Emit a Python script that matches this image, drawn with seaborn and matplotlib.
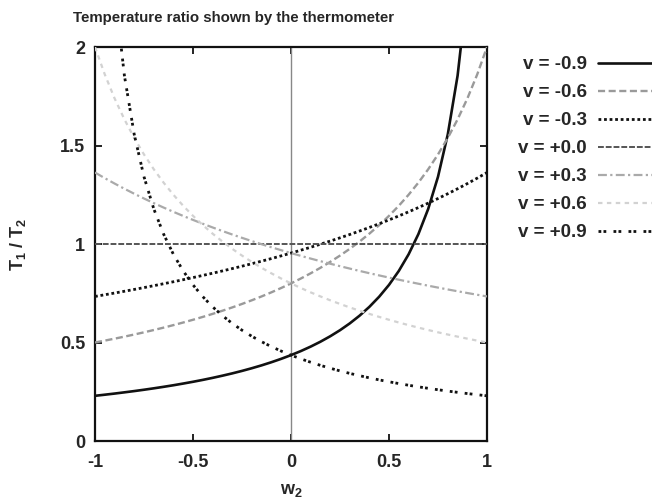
import numpy as np
import pandas as pd
import matplotlib
matplotlib.use("Agg")
import matplotlib.pyplot as plt
import seaborn as sns

# ---- data ----
w2 = [-1.00, -0.95, -0.90, -0.85, -0.80, -0.75, -0.70, -0.65, -0.60, -0.55,
      -0.50, -0.45, -0.40, -0.35, -0.30, -0.25, -0.20, -0.15, -0.10, -0.05,
      0.00, 0.05, 0.10, 0.15, 0.20, 0.25, 0.30, 0.35, 0.40, 0.45,
      0.50, 0.55, 0.60, 0.65, 0.70, 0.75, 0.80, 0.85, 0.90, 0.95, 1.00]

v_m09 = [0.2294, 0.2350, 0.2408, 0.2470, 0.2534, 0.2602, 0.2674, 0.2750, 0.2830, 0.2916,
         0.3006, 0.3102, 0.3205, 0.3315, 0.3432, 0.3558, 0.3694, 0.3840, 0.3999, 0.4171,
         0.4359, 0.4564, 0.4790, 0.5039, 0.5316, 0.5624, 0.5971, 0.6363, 0.6811, 0.7326,
         0.7925, 0.8632, 0.9476, 1.0503, 1.1781, 1.3412, 1.5568, 1.8549, 2.2942, np.nan, np.nan]
v_m06 = [0.5000, 0.5096, 0.5195, 0.5298, 0.5405, 0.5517, 0.5634, 0.5755, 0.5882, 0.6015,
         0.6154, 0.6299, 0.6452, 0.6612, 0.6780, 0.6957, 0.7143, 0.7339, 0.7547, 0.7767,
         0.8000, 0.8247, 0.8511, 0.8791, 0.9091, 0.9412, 0.9756, 1.0127, 1.0526, 1.0959,
         1.1429, 1.1940, 1.2500, 1.3115, 1.3793, 1.4545, 1.5385, 1.6327, 1.7391, 1.8605, 2.0000]
v_m03 = [0.7338, 0.7424, 0.7511, 0.7601, 0.7693, 0.7787, 0.7884, 0.7983, 0.8084, 0.8188,
         0.8295, 0.8405, 0.8517, 0.8633, 0.8752, 0.8874, 0.8999, 0.9129, 0.9261, 0.9398,
         0.9539, 0.9685, 0.9834, 0.9989, 1.0148, 1.0313, 1.0483, 1.0659, 1.0840, 1.1028,
         1.1223, 1.1424, 1.1633, 1.1850, 1.2075, 1.2309, 1.2552, 1.2805, 1.3068, 1.3342, 1.3628]
v_p00 = [1.0] * 41
v_p03 = [1.3628, 1.3342, 1.3068, 1.2805, 1.2552, 1.2309, 1.2075, 1.1850, 1.1633, 1.1424,
         1.1223, 1.1028, 1.0840, 1.0659, 1.0483, 1.0313, 1.0148, 0.9989, 0.9834, 0.9685,
         0.9539, 0.9398, 0.9261, 0.9129, 0.8999, 0.8874, 0.8752, 0.8633, 0.8517, 0.8405,
         0.8295, 0.8188, 0.8084, 0.7983, 0.7884, 0.7787, 0.7693, 0.7601, 0.7511, 0.7424, 0.7338]
v_p06 = [2.0000, 1.8605, 1.7391, 1.6327, 1.5385, 1.4545, 1.3793, 1.3115, 1.2500, 1.1940,
         1.1429, 1.0959, 1.0526, 1.0127, 0.9756, 0.9412, 0.9091, 0.8791, 0.8511, 0.8247,
         0.8000, 0.7767, 0.7547, 0.7339, 0.7143, 0.6957, 0.6780, 0.6612, 0.6452, 0.6299,
         0.6154, 0.6015, 0.5882, 0.5755, 0.5634, 0.5517, 0.5405, 0.5298, 0.5195, 0.5096, 0.5000]
v_p09 = [np.nan, np.nan, 2.2942, 1.8549, 1.5568, 1.3412, 1.1781, 1.0503, 0.9476, 0.8632,
         0.7925, 0.7326, 0.6811, 0.6363, 0.5971, 0.5624, 0.5316, 0.5039, 0.4790, 0.4564,
         0.4359, 0.4171, 0.3999, 0.3840, 0.3694, 0.3558, 0.3432, 0.3315, 0.3205, 0.3102,
         0.3006, 0.2916, 0.2830, 0.2750, 0.2674, 0.2602, 0.2534, 0.2470, 0.2408, 0.2350, 0.2294]

labels = ["v = -0.9", "v = -0.6", "v = -0.3", "v = +0.0", "v = +0.3", "v = +0.6", "v = +0.9"]
series = [v_m09, v_m06, v_m03, v_p00, v_p03, v_p06, v_p09]

x_ticks = [-1, -0.5, 0, 0.5, 1]
x_tick_labels = ["-1", "-0.5", "0", "0.5", "1"]
y_ticks = [0, 0.5, 1, 1.5, 2]
y_tick_labels = ["0", "0.5", "1", "1.5", "2"]

# ---- styles ----
styles = [
    dict(color="#111111", lw=1.9, ls="-"),
    dict(color="#9a9a9a", lw=1.7, ls=(0, (3, 1.5))),
    dict(color="#111111", lw=2.0, ls=(0, (1, 1))),
    dict(color="#555555", lw=1.4, ls=(0, (3, 1))),
    dict(color="#aaaaaa", lw=1.6, ls=(0, (4, 1.5, 1, 1.5))),
    dict(color="#d2d2d2", lw=1.6, ls=(0, (2, 2))),
    dict(color="#111111", lw=2.0, ls=(0, (1, 0.8, 1, 2.6))),
]

sns.set_style("ticks")
plt.rcParams["font.family"] = ["Liberation Sans", "DejaVu Sans"]
plt.rcParams["font.weight"] = "bold"
plt.rcParams["axes.unicode_minus"] = False
plt.rcParams["mathtext.fontset"] = "custom"
plt.rcParams["mathtext.rm"] = "Liberation Sans:bold"
plt.rcParams["mathtext.it"] = "Liberation Sans:bold"
plt.rcParams["mathtext.bf"] = "Liberation Sans:bold"
plt.rcParams["mathtext.default"] = "bf"

fig = plt.figure(figsize=(6.52, 4.98), dpi=100)
ax = fig.add_axes([95 / 652, 57 / 498, 392 / 652, 394 / 498])

ax.axvline(0, color="#888888", lw=1.0, zorder=1)

for lab, vals, st in zip(labels, series, styles):
    df = pd.DataFrame({"w2": w2, "ratio": vals}).dropna()
    sns.lineplot(data=df, x="w2", y="ratio", ax=ax, color=st["color"],
                 linewidth=st["lw"], linestyle=st["ls"], label=lab, zorder=3)

ax.set_xlim(-1, 1)
ax.set_ylim(0, 2)
ax.set_xticks(x_ticks)
ax.set_xticklabels(x_tick_labels)
ax.set_yticks(y_ticks)
ax.set_yticklabels(y_tick_labels)
ax.tick_params(direction="in", top=True, right=True, length=5, width=1.3,
               labelsize=13, pad=7, color="#111111")
ax.tick_params(axis="x", pad=9)
for sp in ax.spines.values():
    sp.set_linewidth(1.6)
    sp.set_color("#111111")
    sp.set_visible(True)

ax.set_xlabel("w$_2$", fontsize=13, fontweight="bold")
ax.xaxis.set_label_coords(0.5, -(490 - 441) / 394)
ax.xaxis.label.set_verticalalignment("center")
ax.set_ylabel("T$_1$ / T$_2$", fontsize=13, fontweight="bold")
ax.yaxis.set_label_coords((18 - 95) / 392, 0.5)
ax.yaxis.label.set_verticalalignment("center")

fig.text(234 / 652, 1 - 18 / 498, "Temperature ratio shown by the thermometer",
         ha="center", va="center", fontsize=10.8, fontweight="bold")

leg = ax.legend(loc="upper right", bbox_to_anchor=(656 / 652, 1 - 56 / 498),
                bbox_transform=fig.transFigure, frameon=False, markerfirst=False,
                fontsize=13.5, handlelength=3.1, handletextpad=0.6, labelspacing=0.58,
                borderpad=0, borderaxespad=0)

fig.savefig("out.png", dpi=100)
